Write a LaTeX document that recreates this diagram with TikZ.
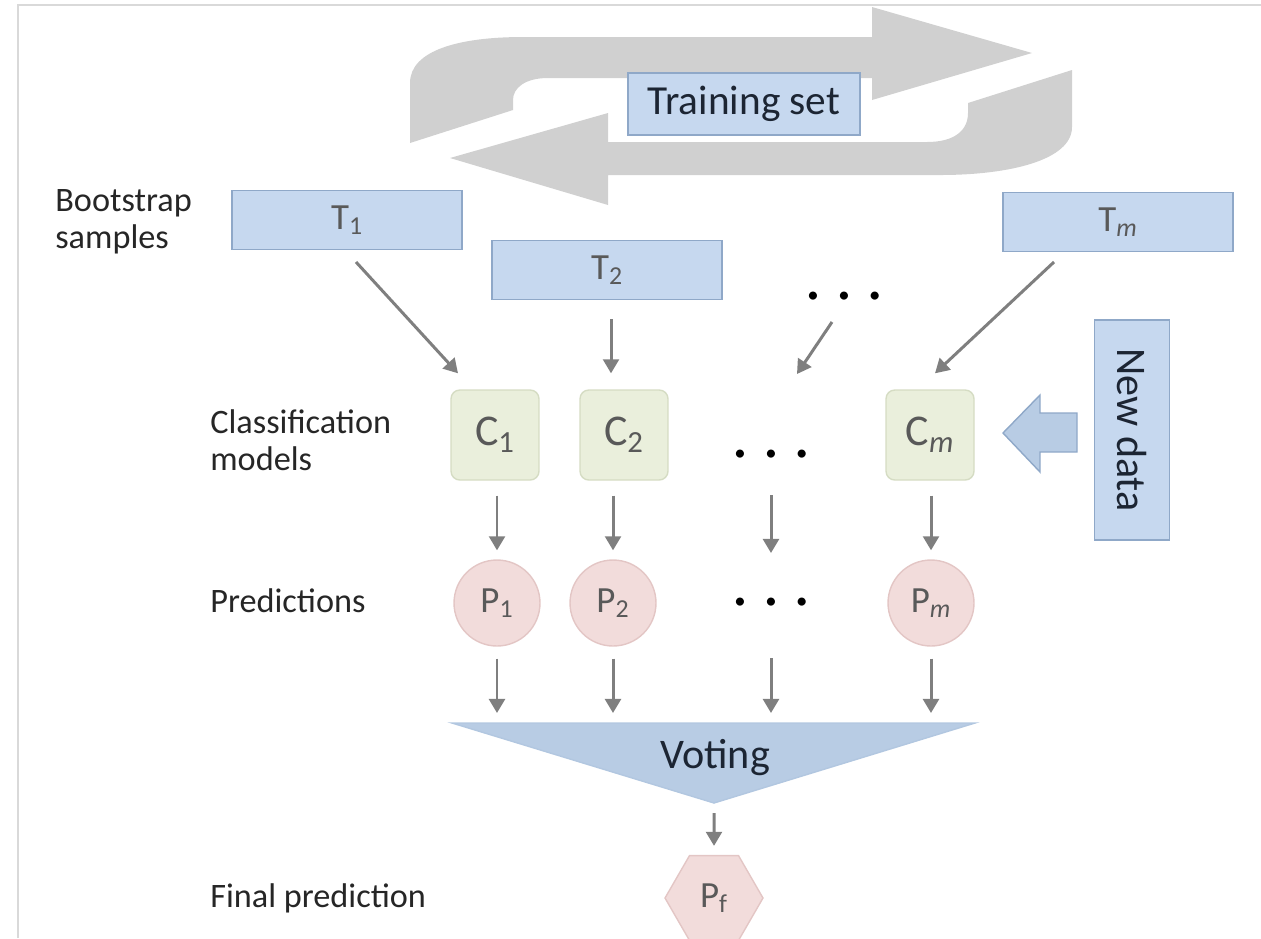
\documentclass[tikz,border=0pt]{standalone}
\usepackage{fontspec}
\setmainfont{Carlito}
\usetikzlibrary{shapes.geometric, arrows.meta, positioning}
\definecolor{blueFill}{HTML}{C6D8EF}
\definecolor{blueLine}{HTML}{8FA8C8}
\definecolor{voteFill}{HTML}{B8CCE4}
\definecolor{greenFill}{HTML}{EAEFDC}
\definecolor{greenLine}{HTML}{D5DCC3}
\definecolor{pinkFill}{HTML}{F2DCDB}
\definecolor{pinkLine}{HTML}{E3C6C5}
\definecolor{cycleGray}{HTML}{D0D0D0}
\definecolor{arrowGray}{HTML}{7F7F7F}
\definecolor{textGray}{HTML}{595959}
\definecolor{darkText}{HTML}{1C2533}
\newcommand{\threedots}{\makebox[17.6pt]{\textbullet}\makebox[17.6pt]{\textbullet}\makebox[17.6pt]{\textbullet}}

\begin{document}
\begin{tikzpicture}[
    x=0.02cm, y=-0.02cm,
    % styles
    rowlabel/.style={anchor=west, inner sep=0pt, align=left, text=black!85, font=\fontsize{19.5}{21}\selectfont},
    sample/.style={rectangle, draw=blueLine, fill=blueFill, thick, minimum width=4.6cm, minimum height=1.18cm, text=textGray, font=\fontsize{21}{24}\selectfont},
    model/.style={rectangle, rounded corners=5pt, draw=greenLine, fill=greenFill, thick, minimum width=1.76cm, minimum height=1.8cm, text=textGray, font=\fontsize{25}{28}\selectfont},
    pred/.style={circle, draw=pinkLine, fill=pinkFill, thick, minimum size=1.72cm, inner sep=0pt, text=textGray, font=\fontsize{21}{24}\selectfont},
    dotsrow/.style={inner sep=0pt, text=black, font=\fontsize{13}{14}\selectfont},
    flow/.style={-{Triangle[width=9pt, length=8pt]}, line width=1.7pt, arrowGray}
]

    % --- frame ---
    \clip (0,0) rectangle (1261,938);
    \draw [black!15, line width=0.05cm] (18,938) -- (18,5) -- (1261,5);

    % --- cycle arrows round the training set ---
    \fill [cycleGray] (410,143) -- (410,83) .. controls (410,50) and (460,37) .. (523,37)
        -- (872,37) -- (872,7) -- (1032,53) -- (872,100) -- (872,78) -- (548,78)
        .. controls (525,78) and (513,88) .. (513,100) -- (513,110) -- cycle;
    \fill [cycleGray] (450,158) -- (608,113) -- (608,142) -- (927,142)
        .. controls (955,142) and (968,130) .. (968,113) -- (968,103) -- (1072,70)
        -- (1072,127) .. controls (1072,160) and (1010,175) .. (940,175)
        -- (608,175) -- (608,205) -- cycle;
    \node (train) [rectangle, draw=blueLine, fill=blueFill, thick, minimum width=4.64cm, minimum height=1.24cm, text=darkText, font=\fontsize{23.5}{26}\selectfont] at (744,104) {Training set};

    % --- row labels ---
    \node (lboot) [rowlabel] at (55,222) {Bootstrap\\samples};
    \node (lmodel) [rowlabel] at (210,440) {Classification\\models};
    \node (lpred) [rowlabel] at (210,601) {Predictions};
    \node (lfinal) [rowlabel] at (210,898) {Final prediction};

    % --- bootstrap samples ---
    \node (T1) [sample] at (347,220) {T\textsubscript{1}};
    \node (T2) [sample] at (607,270) {T\textsubscript{2}};
    \node (Tm) [sample] at (1118,222) {T\textsubscript{\itshape m}};
    \node (d0) [dotsrow] at (844,297) {\threedots};

    % --- classification models ---
    \node (C1) [model] at (495,435) {C\textsubscript{1}};
    \node (C2) [model] at (624,435) {C\textsubscript{2}};
    \node (Cm) [model] at (930,435) {C\textsubscript{\itshape m}};
    \node (d1) [dotsrow] at (771,455) {\threedots};

    % --- new data ---
    \node (newdata) [rectangle, draw=blueLine, fill=blueFill, thick, rotate=-90, minimum width=4.4cm, minimum height=1.5cm, text=darkText, font=\fontsize{24}{26}\selectfont] at (1132,430) {New data};
    \filldraw [draw=blueLine, fill=voteFill, thick] (1077,413) -- (1040,413) -- (1040,395) -- (1003,433)
        -- (1040,472) -- (1040,452) -- (1077,452) -- cycle;

    % --- predictions ---
    \node (P1) [pred] at (497,603) {P\textsubscript{1}};
    \node (P2) [pred] at (613,603) {P\textsubscript{2}};
    \node (Pm) [pred] at (931,603) {P\textsubscript{\itshape m}};
    \node (d2) [dotsrow] at (771,603) {\threedots};

    % --- voting ---
    \coordinate (vtop) at (713,723);
    \coordinate (vapex) at (714,803);
    \filldraw [draw=voteFill!85!blueLine, fill=voteFill, thick] (452,723) -- (975,723) -- (vapex) -- cycle;
    \node (vote) [inner sep=0pt, text=darkText, font=\fontsize{24}{26}\selectfont] at (715,758) {Voting};

    % --- final prediction ---
    \node (Pf) [regular polygon, regular polygon sides=6, minimum size=1.96cm, inner sep=0pt, draw=pinkLine, fill=pinkFill, thick, text=textGray, font=\fontsize{21}{24}\selectfont] at (714,898) {P\textsubscript{f}};

    % --- arrows ---
    \draw [flow] ([xshift=0.18cm, yshift=-0.84cm]T1.center) -- ([xshift=-0.74cm, yshift=0.32cm]C1.north);
    \draw [flow, shorten <=0.38cm, shorten >=0.32cm] ([xshift=0.08cm]T2.south) -- ([xshift=0.08cm]T2.south |- C2.north);
    \draw [flow] ([xshift=-0.24cm, yshift=-0.5cm]d0.center) -- ([xshift=0.52cm, yshift=1.62cm]d1.center);
    \draw [flow] ([xshift=-1.28cm, yshift=-0.8cm]Tm.center) -- ([xshift=0.1cm, yshift=0.32cm]Cm.north);

    \draw [flow, shorten <=0.3cm, shorten >=0.18cm] (C1.south -| P1.north) -- (P1.north);
    \draw [flow, shorten <=0.3cm, shorten >=0.18cm] (C2.south -| P2.north) -- (P2.north);
    \draw [flow] ([yshift=-0.8cm]d1.center) -- ([yshift=1.0cm]d2.center);
    \draw [flow, shorten <=0.3cm, shorten >=0.18cm] (Cm.south -| Pm.north) -- (Pm.north);

    \foreach \p in {P1, P2, Pm} {
        \draw [flow, shorten <=0.24cm, shorten >=0.2cm] (\p.south) -- (\p.south |- vtop);
    }
    \draw [flow, shorten >=0.2cm] ([yshift=-1.1cm]d2.center) -- (d2.center |- vtop);
    \draw [flow, shorten <=0.2cm, shorten >=0.18cm] (vapex) -- (Pf.north);

\end{tikzpicture}
\end{document}
